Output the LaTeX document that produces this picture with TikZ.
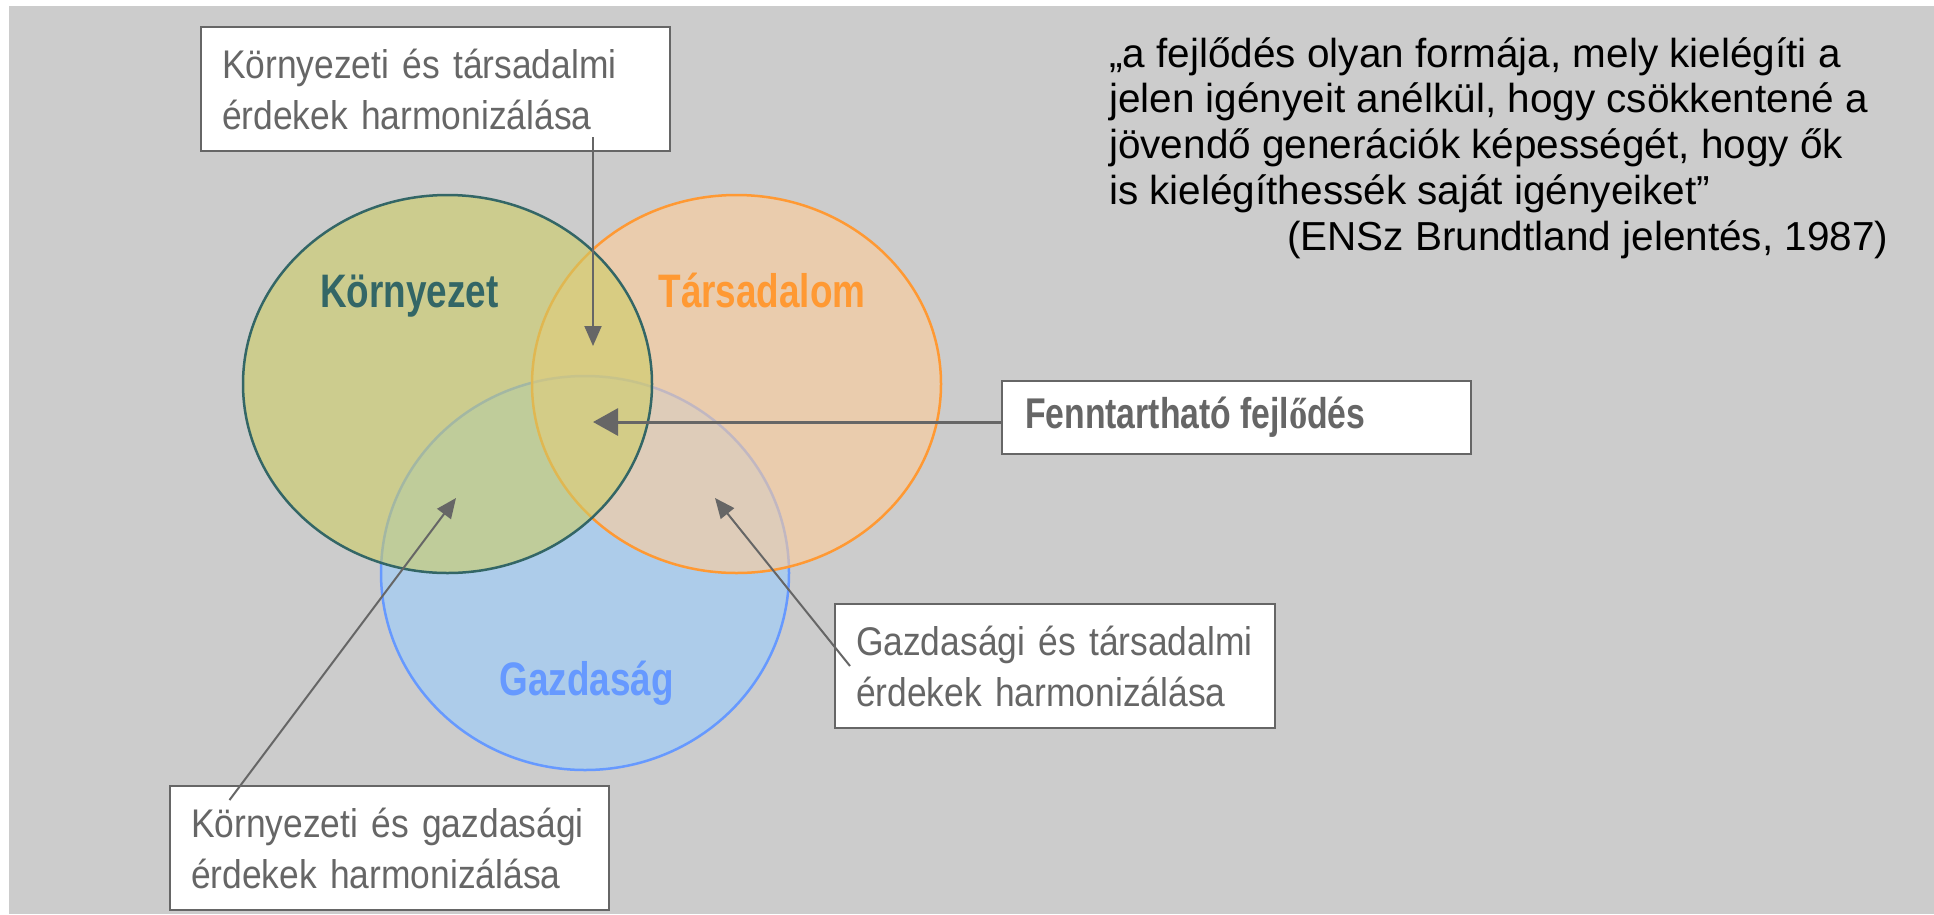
\documentclass[tikz,border=0pt]{standalone}
\usepackage{fontspec}
\setmainfont{Liberation Sans}
\newfontfamily\condlight{Liberation Sans}[FakeStretch=0.885]
\newfontfamily\condbold{Liberation Sans}[FakeStretch=0.785]
\newfontfamily\serifo{Liberation Serif}[FakeStretch=0.85]
\usetikzlibrary{arrows.meta,calc}
\definecolor{bggray}{HTML}{CCCCCC}
\definecolor{boxgray}{HTML}{666666}
\definecolor{envline}{HTML}{336666}
\definecolor{envfill}{HTML}{CCCC66}
\definecolor{socline}{HTML}{FF9933}
\definecolor{socfill}{HTML}{FFCC99}
\definecolor{ecoline}{HTML}{6699FF}
\definecolor{ecofill}{HTML}{99CCFF}
\begin{document}
\begin{tikzpicture}[x=1pt,y=-1pt,
  labelbox/.style={draw=boxgray, line width=2pt, fill=white, inner ysep=0pt,
    minimum height=124pt, align=left, anchor=north west, text=boxgray,
    font=\condlight\fontsize{40}{51}\selectfont},
  circlelabel/.style={anchor=base, inner sep=0pt, font=\condbold\bfseries\fontsize{47}{56}\selectfont},
  conn/.style={draw=boxgray, line width=2pt, -{Triangle[length=20pt,width=17pt]}},
  connbig/.style={draw=boxgray, line width=3pt, -{Triangle[length=25pt,width=27pt]}},
  venn/.style={line width=2.5pt, fill opacity=0.6, draw opacity=1}
]
\useasboundingbox (0,0) rectangle (1934,914);
\fill[white] (0,0) rectangle (1934,914);
\fill[bggray] (9,6) rectangle (1934,914);

% Venn ellipses
\filldraw[venn, fill=ecofill, draw=ecoline] (585,573) ellipse [x radius=204, y radius=197];
\filldraw[venn, fill=socfill, draw=socline] (736.5,384) ellipse [x radius=204.5, y radius=189];
\filldraw[venn, fill=envfill, draw=envline] (447.5,384) ellipse [x radius=204.5, y radius=189];

% circle labels
\node[circlelabel, text=envline] (lenv) at (409.5,307) {Környezet};
\node[circlelabel, text=socline] (lsoc) at (762,307) {Társadalom};
\node[circlelabel, text=ecoline] (leco) at (586.5,695) {Gazdaság};

% boxes
\node[labelbox, minimum width=469pt, text width=427pt, inner xsep=21pt] (tbox) at (200,26)
  {Környezeti és társadalmi\\érdekek harmonizálása};
\node[labelbox, minimum width=440pt, text width=398pt, inner xsep=21pt] (gbox) at (834,603)
  {Gazdasági és társadalmi\\érdekek harmonizálása};
\node[labelbox, minimum width=439pt, text width=397pt, inner xsep=21pt] (kbox) at (169,785)
  {Környezeti és gazdasági\\érdekek harmonizálása};
\node[draw=boxgray, line width=2pt, fill=white, anchor=north west, inner ysep=0pt,
  inner xsep=23pt, minimum width=469pt, text width=423pt, minimum height=73pt, align=left,
  text=boxgray, font=\condbold\bfseries\fontsize{43}{50}\selectfont] (fbox) at (1001,380)
  {Fenntartható\hspace{9pt}fejl{\serifo\bfseries ő}dés};

% quote
\node[anchor=north west, align=left, inner sep=0pt, text=black,
  font=\fontsize{40.5}{45.75}\selectfont] (quote) at (1109,37)
  {„a fejlődés olyan formája, mely kielégíti a\\
   jelen igényeit anélkül, hogy csökkentené a\\
   jövendő generációk képességét, hogy ők\\
   is kielégíthessék saját igényeiket”\\
   \hspace*{178pt}(ENSz Brundtland jelentés, 1987)};

% connectors
\coordinate (tipT) at (593,346);
\coordinate (tipF) at (593,422);
\coordinate (tipG) at (715,498);
\coordinate (tipK) at (456,498);
\draw[conn] ($(tbox.south -| tipT)+(0,-15)$) -- (tipT);
\draw[connbig] (fbox.west |- tipF) -- (tipF);
\draw[conn] ($(gbox.west)+(16,0)$) -- (tipG);
\draw[conn] ($(kbox.north west)+(60.5,15)$) -- (tipK);
\end{tikzpicture}
\end{document}
